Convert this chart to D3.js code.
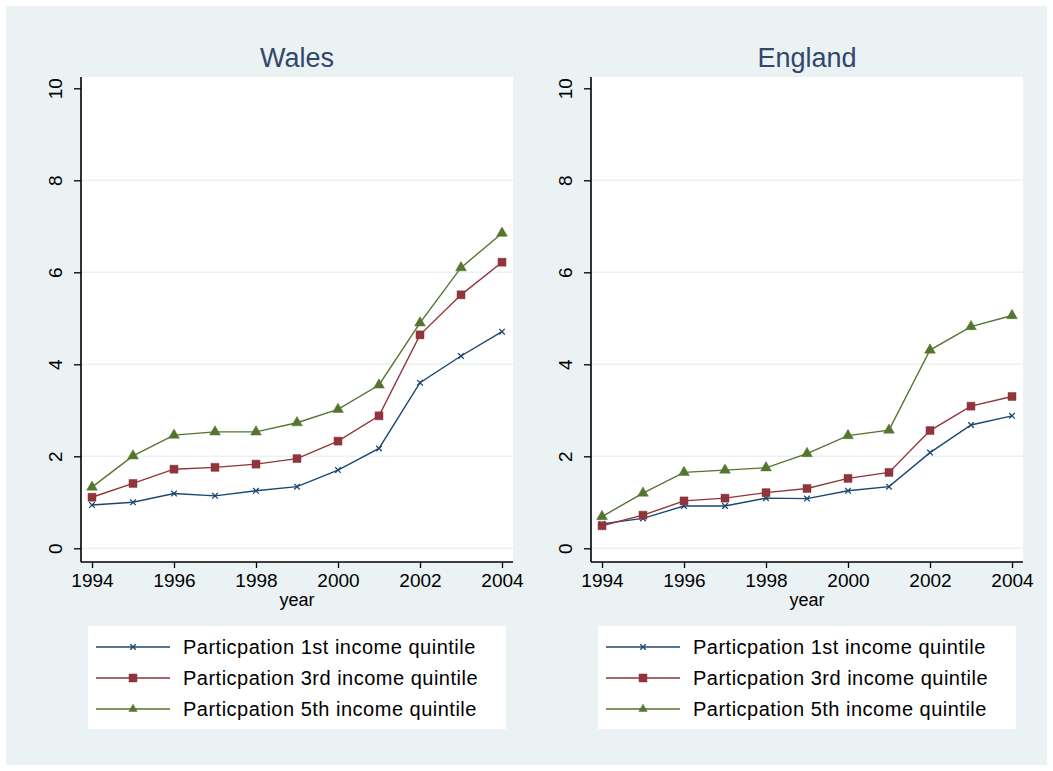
<!DOCTYPE html>
<html>
<head>
<meta charset="utf-8">
<script src="https://cdn.jsdelivr.net/npm/d3@7"></script>
<style>
  body { margin: 0; background: #fff; }
  text { font-family: "Liberation Sans", Arial, sans-serif; }
</style>
</head>
<body>
<div id="chart"></div>
<script>
// data
const years = [1994, 1995, 1996, 1997, 1998, 1999, 2000, 2001, 2002, 2003, 2004];
const xTicks = [1994, 1996, 1998, 2000, 2002, 2004];
const yTicks = [0, 2, 4, 6, 8, 10];
const seriesNames = [
  'Particpation 1st income quintile',
  'Particpation 3rd income quintile',
  'Particpation 5th income quintile'
];
const walesQ1 = [0.94, 1.00, 1.19, 1.14, 1.25, 1.34, 1.70, 2.17, 3.60, 4.18, 4.71];
const walesQ3 = [1.11, 1.41, 1.72, 1.76, 1.83, 1.95, 2.33, 2.88, 4.64, 5.51, 6.22];
const walesQ5 = [1.33, 2.01, 2.46, 2.53, 2.53, 2.73, 3.02, 3.55, 4.90, 6.10, 6.85];
const englandQ1 = [0.53, 0.65, 0.92, 0.92, 1.09, 1.08, 1.25, 1.34, 2.08, 2.68, 2.88];
const englandQ3 = [0.49, 0.72, 1.03, 1.09, 1.21, 1.30, 1.52, 1.65, 2.56, 3.09, 3.30];
const englandQ5 = [0.69, 1.20, 1.65, 1.70, 1.75, 2.06, 2.45, 2.57, 4.31, 4.82, 5.06];

const colors = ['#1a476f', '#90353b', '#55752f'];
const symbols = [d3.symbolX, d3.symbolSquare, d3.symbolTriangle];
const symSizes = [22, 64, 50];

const W = 1053, H = 771;
const svg = d3.select('#chart').append('svg')
  .attr('width', W)
  .attr('height', H);

// graph region
svg.append('rect')
  .attr('x', 6).attr('y', 6)
  .attr('width', W - 12).attr('height', H - 12)
  .attr('fill', '#eaf2f3');

function marker(sel, i, size) {
  const path = d3.symbol().type(symbols[i]).size(size || symSizes[i]);
  sel.attr('d', path)
    .attr('fill', i === 0 ? 'none' : colors[i])
    .attr('stroke', colors[i])
    .attr('stroke-width', i === 0 ? 1.3 : 0.5);
}

function drawPanel(opts) {
  const { left, right, top, bottom, title, series } = opts;
  const g = svg.append('g');

  const x = d3.scaleLinear().domain([1994, 2004]).range([left + 11, right - 11]);
  const y = d3.scaleLinear().domain([0, 10]).range([bottom - 13.7, top + 11.3]);

  // plot region
  g.append('rect')
    .attr('x', left).attr('y', top)
    .attr('width', right - left).attr('height', bottom - top)
    .attr('fill', '#fff');

  // grid lines
  g.selectAll('.grid')
    .data(yTicks.filter(d => d < 10))
    .enter().append('line')
    .attr('x1', left).attr('x2', right)
    .attr('y1', d => y(d)).attr('y2', d => y(d))
    .attr('stroke', '#eaf2f3')
    .attr('stroke-width', 1.5);

  // title
  g.append('text')
    .attr('x', (left + right) / 2)
    .attr('y', 67)
    .attr('text-anchor', 'middle')
    .style('font-size', '27px')
    .style('fill', '#33466b')
    .text(title);

  // y axis
  const yAxis = g.append('g')
    .attr('transform', `translate(${left},0)`)
    .call(d3.axisLeft(y).tickValues(yTicks).tickSize(7).tickPadding(0).tickFormat(d3.format('d')));
  yAxis.select('.domain').attr('d', `M0,${top}V${bottom}`).attr('stroke', '#000').attr('stroke-width', 1.6);
  yAxis.selectAll('.tick line').attr('stroke', '#000').attr('stroke-width', 1.3);
  yAxis.selectAll('.tick text')
    .attr('x', null).attr('dy', null)
    .attr('transform', 'translate(-19,0) rotate(-90)')
    .attr('text-anchor', 'middle')
    .style('font-size', '19px')
    .style('fill', '#000');

  // x axis
  const xAxis = g.append('g')
    .attr('transform', `translate(0,${bottom})`)
    .call(d3.axisBottom(x).tickValues(xTicks).tickSize(6).tickPadding(6).tickFormat(d3.format('d')));
  xAxis.select('.domain').attr('d', `M${left},0H${right}`).attr('stroke', '#000').attr('stroke-width', 1.6);
  xAxis.selectAll('.tick line').attr('stroke', '#000').attr('stroke-width', 1.3);
  xAxis.selectAll('.tick text')
    .style('font-size', '19px')
    .style('fill', '#000');

  g.append('text')
    .attr('x', (left + right) / 2)
    .attr('y', 606)
    .attr('text-anchor', 'middle')
    .style('font-size', '18px')
    .style('fill', '#000')
    .text('year');

  // lines + markers
  const line = d3.line()
    .x((d, i) => x(years[i]))
    .y(d => y(d));

  series.forEach((vals, si) => {
    g.append('path')
      .datum(vals)
      .attr('d', line)
      .attr('fill', 'none')
      .attr('stroke', colors[si])
      .attr('stroke-width', 1.4);

    g.selectAll('.m' + si)
      .data(vals)
      .enter().append('path')
      .attr('class', 'm' + si)
      .attr('transform', (d, i) => `translate(${x(years[i])},${y(d)})`)
      .call(marker, si);
  });

  // legend
  const lx = left + 7, ly = 626, lw = right - left - 14, lh = 103;
  const leg = g.append('g');
  leg.append('rect')
    .attr('x', lx).attr('y', ly)
    .attr('width', lw).attr('height', lh)
    .attr('fill', '#fff');

  seriesNames.forEach((name, si) => {
    const ry = ly + 21 + si * 31;
    leg.append('line')
      .attr('x1', lx + 8).attr('x2', lx + 82)
      .attr('y1', ry).attr('y2', ry)
      .attr('stroke', colors[si])
      .attr('stroke-width', 1.6);
    leg.append('path')
      .attr('transform', `translate(${lx + 45},${ry})`)
      .call(marker, si, si === 2 ? 30 : null);
    leg.append('text')
      .attr('x', lx + 95)
      .attr('y', ry + 7)
      .style('font-size', '20px')
      .style('letter-spacing', '0.5px')
      .style('fill', '#000')
      .text(name);
  });
}

drawPanel({ left: 81, right: 513, top: 77, bottom: 562, title: 'Wales',
  series: [walesQ1, walesQ3, walesQ5] });
drawPanel({ left: 591, right: 1023, top: 77, bottom: 562, title: 'England',
  series: [englandQ1, englandQ3, englandQ5] });
</script>
</body>
</html>
